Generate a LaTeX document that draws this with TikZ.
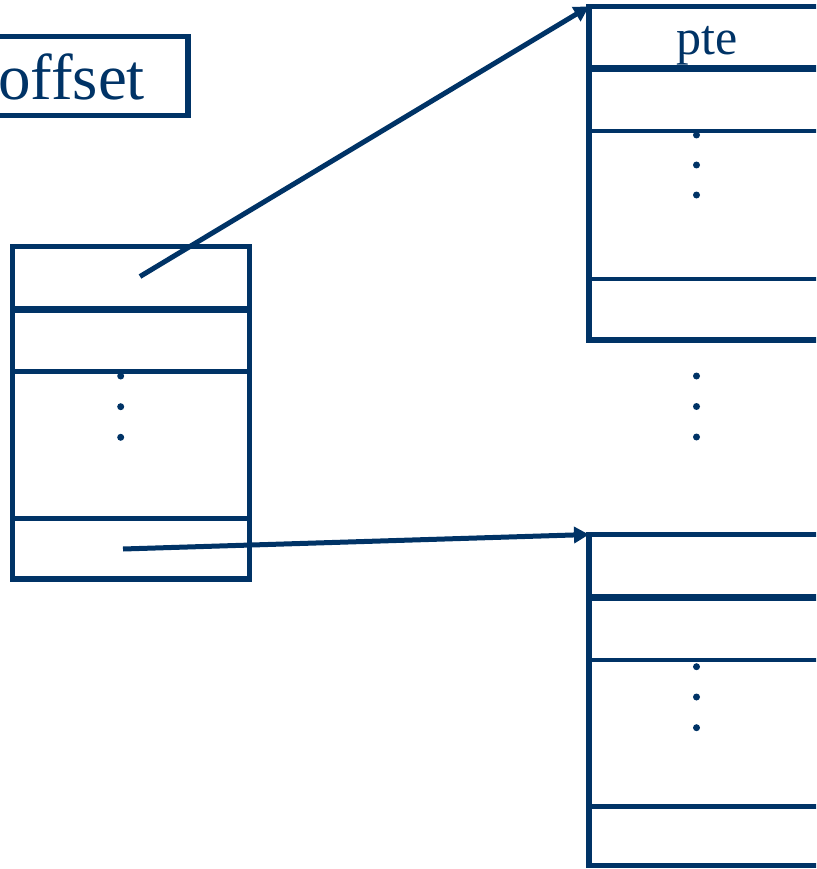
\documentclass[tikz,border=0pt]{standalone}
\usepackage{fontspec}
\setmainfont{Liberation Serif}
\usetikzlibrary{arrows.meta}
\definecolor{navy}{RGB}{0,51,102}
\begin{document}
\begin{tikzpicture}[x=1pt,y=-1pt,
  frame/.style={draw=navy, line width=5.5pt, rectangle, inner sep=0pt, outer sep=0pt},
  rowline/.style={draw=navy, line width=4.5pt},
  thickline/.style={draw=navy, line width=7pt},
  vdot/.style={fill=navy, circle, inner sep=0pt, minimum size=7pt},
  link/.style={draw=navy, line width=5pt, -{Triangle[length=15pt,width=16pt]}},
  label/.style={text=navy, inner sep=0pt}]
\useasboundingbox (0,0) rectangle (816,869);
\clip (0,0) rectangle (816,869);

% offset field
\node[frame, minimum width=227.5pt, minimum height=79pt] (offbox) at (74,76) {};
\node[label, anchor=base west, font=\fontsize{65}{65}\selectfont] (offtext) at (-2,100) {offset};

% page directory
\node[frame, minimum width=237pt, minimum height=332.5pt] (dir) at (131,412.75) {};
\draw[thickline] (dir.west |- 0,309) -- (dir.east |- 0,309);
\draw[rowline] (dir.west |- 0,371.5) -- (dir.east |- 0,371.5);
\draw[rowline] (dir.west |- 0,518.5) -- (dir.east |- 0,518.5);
\node[vdot] (dd1) at (120.7,376) {};
\node[vdot] (dd2) at (120.7,406.7) {};
\node[vdot] (dd3) at (120.7,437.3) {};
\coordinate (dirtop) at (140,276.5);
\coordinate (dirbot) at (123,549);

% first page table
\node[frame, minimum width=251pt, minimum height=333.5pt] (ptA) at (714.5,173.25) {};
\draw[thickline] (ptA.west |- 0,68.5) -- (ptA.east |- 0,68.5);
\draw[rowline] (ptA.west |- 0,131) -- (ptA.east |- 0,131);
\draw[rowline] (ptA.west |- 0,279) -- (ptA.east |- 0,279);
\node[label, anchor=base, font=\fontsize{50}{50}\selectfont] (pte) at (707,55) {pte};
\node[vdot] (ad1) at (696.5,135) {};
\node[vdot] (ad2) at (696.5,165) {};
\node[vdot] (ad3) at (696.5,195) {};

% gap between page tables
\node[vdot] (md1) at (696.5,376) {};
\node[vdot] (md2) at (696.5,406.5) {};
\node[vdot] (md3) at (696.5,437) {};

% last page table
\node[frame, minimum width=251pt, minimum height=331pt] (ptB) at (714.5,700) {};
\draw[thickline] (ptB.west |- 0,597) -- (ptB.east |- 0,597);
\draw[rowline] (ptB.west |- 0,660) -- (ptB.east |- 0,660);
\draw[rowline] (ptB.west |- 0,806.5) -- (ptB.east |- 0,806.5);
\node[vdot] (bd1) at (696.5,666.7) {};
\node[vdot] (bd2) at (696.5,697) {};
\node[vdot] (bd3) at (696.5,727.7) {};

% pointers from directory entries
\draw[link] (dirtop) -- (ptA.north west);
\draw[link] (dirbot) -- (ptB.north west);
\end{tikzpicture}
\end{document}
